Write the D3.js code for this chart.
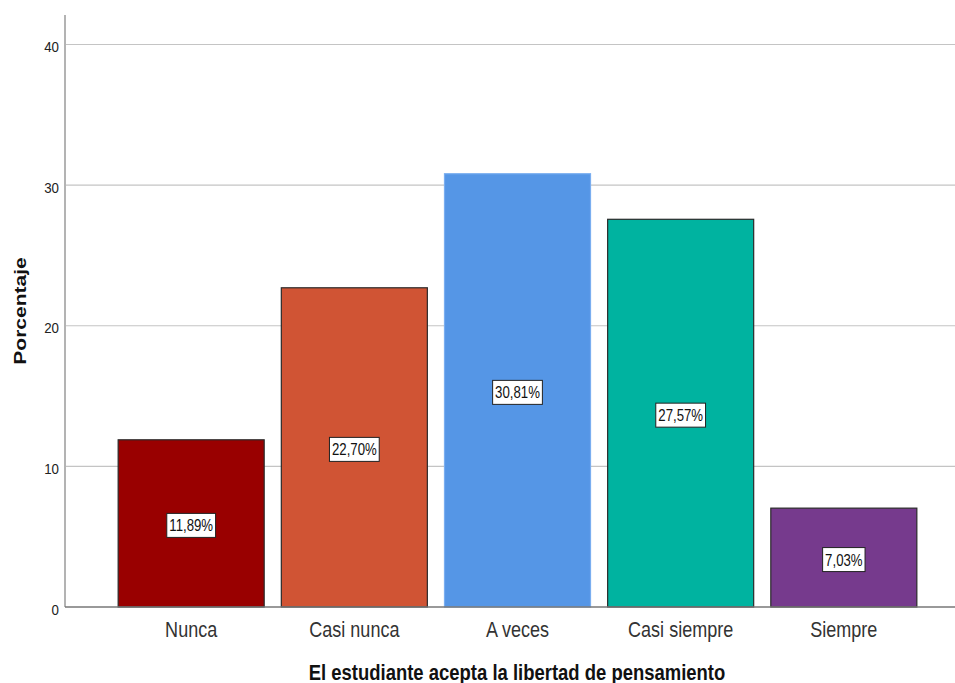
<!DOCTYPE html>
<html><head><meta charset="utf-8">
<script src="https://cdn.jsdelivr.net/npm/d3@7/dist/d3.min.js"></script>
<style>body{margin:0;background:#fff;}svg{display:block;font-family:"Liberation Sans",Arial,sans-serif;}</style>
</head><body><svg id="c" width="955" height="683"></svg>
<script>
const categories = ["Nunca", "Casi nunca", "A veces", "Casi siempre", "Siempre"];
const values = [11.89, 22.70, 30.81, 27.57, 7.03];
const labels = ["11,89%", "22,70%", "30,81%", "27,57%", "7,03%"];
const colors = ["#990000", "#d05434", "#5596e6", "#00b3a0", "#763a8d"];
const yTicks = [0, 10, 20, 30, 40];

const SX = 0.82; // horizontal squeeze of text seen in the reference
const svg = d3.select("#c");
const y = d3.scaleLinear().domain([0, 40]).range([607, 44.5]);
const x = d3.scaleBand().domain(categories).range([110, 925]).paddingInner(0.105).paddingOuter(0.05);

// gridlines
svg.append("g").selectAll("line").data(yTicks.filter(d => d > 0)).join("line")
  .attr("x1", 66).attr("x2", 955).attr("y1", d => y(d)).attr("y2", d => y(d))
  .attr("stroke", "#c4c4c4").attr("stroke-width", 1.2);

// y axis tick labels
svg.append("g").selectAll("text").data(yTicks).join("text")
  .attr("transform", d => `translate(59,${y(d) + 7.5}) scale(0.86,1)`)
  .attr("text-anchor", "end").attr("font-size", 15.5).attr("fill", "#222")
  .text(d => d3.format("d")(d));
svg.append("line").attr("x1", 65).attr("x2", 65).attr("y1", 15).attr("y2", 607)
  .attr("stroke", "#8a8a8a").attr("stroke-width", 1.3);

// bars
svg.append("g").selectAll("rect").data(values).join("rect")
  .attr("x", (d, i) => x(categories[i]))
  .attr("width", x.bandwidth())
  .attr("y", d => y(d))
  .attr("height", d => y(0) - y(d))
  .attr("fill", (d, i) => colors[i])
  .attr("stroke", (d, i) => i === 2 ? "#7aaef0" : "#2a2a2a")
  .attr("stroke-width", 1.2);

// x axis line
svg.append("line").attr("x1", 65).attr("x2", 955).attr("y1", 607).attr("y2", 607)
  .attr("stroke", "#777").attr("stroke-width", 1.4);

// category labels
svg.append("g").selectAll("text").data(categories).join("text")
  .attr("transform", d => `translate(${x(d) + x.bandwidth() / 2},637) scale(${SX},1)`)
  .attr("text-anchor", "middle").attr("font-size", 22).attr("fill", "#333")
  .text(d => d);

// value labels
const lg = svg.append("g").selectAll("g").data(values).join("g")
  .attr("transform", (d, i) => `translate(${x(categories[i]) + x.bandwidth() / 2},${(y(d) + y(0)) / 2 + 2})`);
const vt = lg.append("text").text((d, i) => labels[i]).attr("text-anchor", "middle").attr("dy", "0.36em")
  .attr("font-size", 16.5).attr("fill", "#111").attr("transform", `scale(0.8,1)`);
lg.insert("rect", "text").each(function (d, i) {
  const w = vt.nodes()[i].getComputedTextLength() * 0.8 + 5;
  d3.select(this).attr("x", -w / 2).attr("y", -12).attr("width", w).attr("height", 24);
}).attr("fill", "#fff").attr("stroke", "#222").attr("stroke-width", 1);

// titles
svg.append("text").attr("transform", `translate(517,680) scale(0.84,1)`).attr("text-anchor", "middle")
  .attr("font-size", 22).attr("font-weight", "bold").attr("fill", "#111")
  .text("El estudiante acepta la libertad de pensamiento");
svg.append("text").attr("transform", "translate(26,311) rotate(-90) scale(1,0.8)").attr("text-anchor", "middle")
  .attr("font-size", 21).attr("font-weight", "bold").attr("fill", "#111")
  .text("Porcentaje");
</script></body></html>
